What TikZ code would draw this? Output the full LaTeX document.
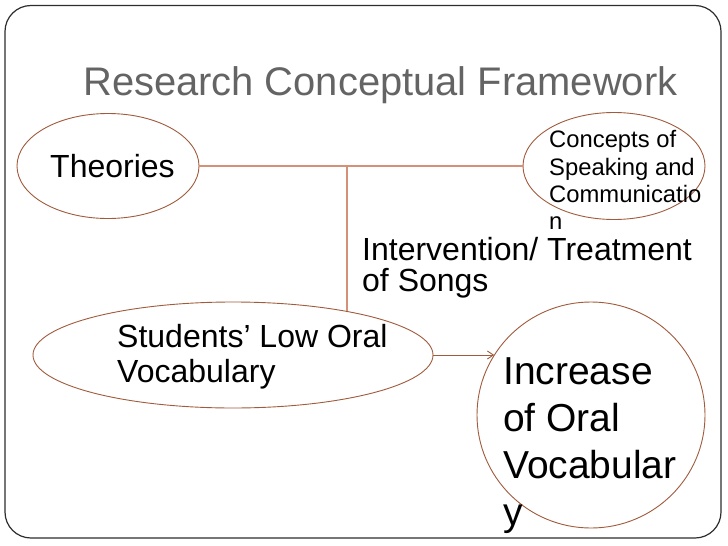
\documentclass[tikz,border=0pt]{standalone}
\usepackage{fontspec}
\setmainfont{Liberation Sans}
\usetikzlibrary{shapes.geometric,arrows.meta}
\definecolor{ellcol}{RGB}{160,90,60}
\definecolor{linecol}{RGB}{212,145,120}
\definecolor{framecol}{RGB}{45,45,45}
\definecolor{titlecol}{RGB}{100,100,100}
\begin{document}
\begin{tikzpicture}[x=1pt,y=-1pt,
  oval/.style={draw=ellcol,line width=0.9pt,ellipse,inner sep=0pt},
  txt/.style={anchor=base west,inner sep=0pt,text=black},
  fsmall/.style={font=\fontsize{23.8}{28}\selectfont},
  fmid/.style={font=\fontsize{32}{38}\selectfont},
  fbig/.style={font=\fontsize{39}{47}\selectfont},
  conn/.style={draw=linecol,line width=1.8pt},
  arr/.style={draw=ellcol,line width=0.9pt,-{Straight Barb[length=6pt,width=8pt]}}]
\useasboundingbox (0,0) rectangle (728,546);
\draw[framecol,line width=1.2pt,rounded corners=26pt] (5,5.5) rectangle (721,538);

\node[txt,text=titlecol,font=\fontsize{39.9}{48}\selectfont] (title) at (83,95) {Research Conceptual Framework};

\node[oval,minimum width=182pt,minimum height=105pt] (theories) at (108,166) {};
\node[oval,minimum width=182pt,minimum height=107pt] (concepts) at (614,166) {};
\node[oval,minimum width=400pt,minimum height=106pt] (students) at (233,355) {};
\node[oval,minimum width=228pt,minimum height=226pt] (increase) at (591,415) {};

\node[txt,fmid] (theoriesT) at (50,177) {Theories};

\node[txt,fsmall] (conc1) at (549,147) {Concepts of};
\node[txt,fsmall] (conc2) at (549,175) {Speaking and};
\node[txt,fsmall] (conc3) at (549,202) {Communicatio};
\node[txt,fsmall] (conc4) at (549,229) {n};

\node[txt,fmid] (int1) at (362,260) {Intervention/ Treatment};
\node[txt,fmid] (int2) at (362,291) {of Songs};

\node[txt,fmid] (stu1) at (117,347) {Students’ Low Oral};
\node[txt,fmid] (stu2) at (117,382) {Vocabulary};

\node[txt,fbig] (inc1) at (503,384) {Increase};
\node[txt,fbig] (inc2) at (503,431) {of Oral};
\node[txt,fbig] (inc3) at (503,478) {Vocabular};
\node[txt,fbig] (inc4) at (503,525) {y};

\draw[conn] (theories.east) -- (concepts.west);
\coordinate (junction) at (students.21 |- theories.east);
\draw[conn] (junction) -- (students.21);
\draw[arr] (students.east) -- (students.east -| increase.148);
\end{tikzpicture}
\end{document}
